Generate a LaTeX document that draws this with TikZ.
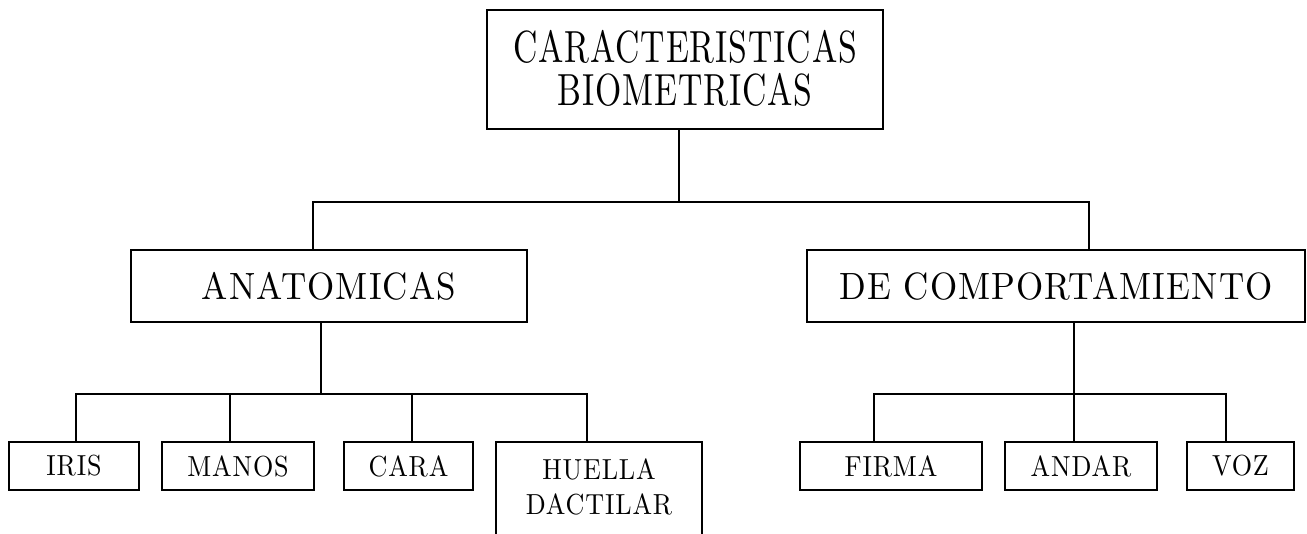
\documentclass[tikz,border=0pt]{standalone}
\usepackage{fontspec}
\newfontfamily\topf{lmroman10-regular.otf}[FakeStretch=0.75, LetterSpace=2]
\newfontfamily\midf{lmroman10-regular.otf}[FakeStretch=0.92, LetterSpace=3]
\newfontfamily\lowf{lmroman10-regular.otf}[FakeStretch=0.90, LetterSpace=3]
\begin{document}
\begin{tikzpicture}[x=1pt,y=-1pt,
  box/.style={draw, inner sep=0pt, line width=1.5pt},
  conn/.style={line width=1.5pt},
  topfont/.style={font=\topf\fontsize{45}{43}\selectfont, align=center},
  midfont/.style={font=\midf\fontsize{38}{40}\selectfont},
  lowfont/.style={font=\lowf\fontsize{29}{35}\selectfont, align=center}]
\useasboundingbox (0,0) rectangle (1307,534);
\clip (0,0) rectangle (1307,534);
\fill[white] (0,0) rectangle (1307,534);
% level 0
\node[box, minimum width=396pt, minimum height=119pt] (top) at (685,69.5) {};
\node[topfont, inner sep=0pt] (toptext) at (685,68) {CARACTERISTICAS\\BIOMETRICAS};
% level 1
\node[box, midfont, minimum width=396pt, minimum height=72pt] (anat) at (329,286) {ANATOMICAS};
\node[box, midfont, minimum width=498pt, minimum height=72pt] (comp) at (1056,286) {DE COMPORTAMIENTO};
% level 2 left
\node[box, lowfont, minimum width=130pt, minimum height=48pt] (iris) at (74,466) {IRIS};
\node[box, lowfont, minimum width=152pt, minimum height=48pt] (manos) at (238,466) {MANOS};
\node[box, lowfont, minimum width=129pt, minimum height=48pt] (cara) at (408.5,466) {CARA};
\node[box, minimum width=206pt, minimum height=118pt] (huella) at (599,501) {};
\node[lowfont, inner sep=0pt] (huellat) at (599,487) {HUELLA\\DACTILAR};
% level 2 right
\node[box, lowfont, minimum width=182pt, minimum height=48pt] (firma) at (891,466) {FIRMA};
\node[box, lowfont, minimum width=152pt, minimum height=48pt] (andar) at (1081,466) {ANDAR};
\node[box, lowfont, minimum width=107pt, minimum height=48pt] (voz) at (1240.5,466) {VOZ};
% junctions
\coordinate (j0) at (679,202);
\coordinate (ja) at (313,202);
\coordinate (jc) at (1089,202);
\coordinate (ka) at (321,394);
\coordinate (k1) at (76,394);
\coordinate (k2) at (230,394);
\coordinate (k3) at (412,394);
\coordinate (k4) at (587,394);
\coordinate (kb) at (1074,394);
\coordinate (m1) at (874,394);
\coordinate (m3) at (1226,394);
% connectors
\draw[conn] (j0 |- top.south) -- (j0);
\draw[conn] (ja |- anat.north) -- (ja) -- (jc) -- (jc |- comp.north);
\draw[conn] (ka |- anat.south) -- (ka);
\draw[conn] (k1 |- iris.north) -- (k1) -- (k4) -- (k4 |- huella.north);
\draw[conn] (k2) -- (k2 |- manos.north);
\draw[conn] (k3) -- (k3 |- cara.north);
\draw[conn] (kb |- comp.south) -- (kb |- andar.north);
\draw[conn] (m1 |- firma.north) -- (m1) -- (m3) -- (m3 |- voz.north);
\end{tikzpicture}
\end{document}
